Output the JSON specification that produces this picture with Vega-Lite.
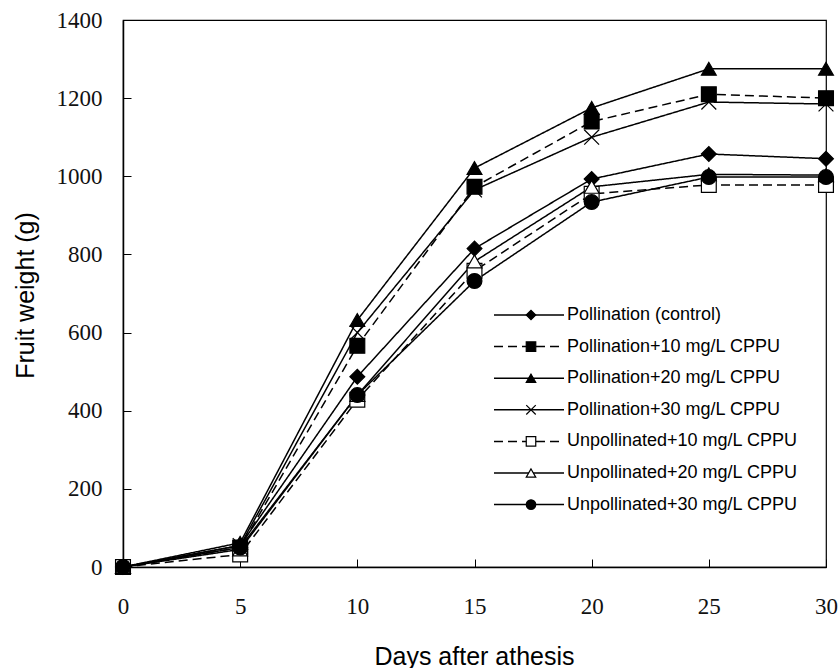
{
  "$schema": "https://vega.github.io/schema/vega-lite/v6.json",
  "width": 703,
  "height": 547,
  "autosize": {"type": "none"},
  "padding": {"left": 123, "top": 20, "right": 13, "bottom": 101},
  "background": "white",
  "config": {
    "view": {"stroke": "#000000", "strokeWidth": 1.2},
    "axis": {
      "grid": false,
      "domainColor": "#000000",
      "domainWidth": 1.5,
      "tickColor": "#000000",
      "tickWidth": 1,
      "tickSize": -8,
      "labelFont": "Liberation Serif",
      "labelFontSize": 23,
      "labelColor": "#111111",
      "titleFont": "Liberation Sans",
      "titleFontSize": 25,
      "titleFontWeight": "normal",
      "titleColor": "#000000"
    }
  },
  "data": {
    "values": [
      {"day": 0, "series": "Pollination (control)", "weight": 0},
      {"day": 5, "series": "Pollination (control)", "weight": 55},
      {"day": 10, "series": "Pollination (control)", "weight": 487},
      {"day": 15, "series": "Pollination (control)", "weight": 815},
      {"day": 20, "series": "Pollination (control)", "weight": 993},
      {"day": 25, "series": "Pollination (control)", "weight": 1057},
      {"day": 30, "series": "Pollination (control)", "weight": 1045},
      {"day": 0, "series": "Pollination+10 mg/L CPPU", "weight": 0},
      {"day": 5, "series": "Pollination+10 mg/L CPPU", "weight": 50},
      {"day": 10, "series": "Pollination+10 mg/L CPPU", "weight": 566},
      {"day": 15, "series": "Pollination+10 mg/L CPPU", "weight": 973},
      {"day": 20, "series": "Pollination+10 mg/L CPPU", "weight": 1140},
      {"day": 25, "series": "Pollination+10 mg/L CPPU", "weight": 1210},
      {"day": 30, "series": "Pollination+10 mg/L CPPU", "weight": 1200},
      {"day": 0, "series": "Pollination+20 mg/L CPPU", "weight": 0},
      {"day": 5, "series": "Pollination+20 mg/L CPPU", "weight": 62},
      {"day": 10, "series": "Pollination+20 mg/L CPPU", "weight": 632},
      {"day": 15, "series": "Pollination+20 mg/L CPPU", "weight": 1021},
      {"day": 20, "series": "Pollination+20 mg/L CPPU", "weight": 1175},
      {"day": 25, "series": "Pollination+20 mg/L CPPU", "weight": 1275},
      {"day": 30, "series": "Pollination+20 mg/L CPPU", "weight": 1275},
      {"day": 0, "series": "Pollination+30 mg/L CPPU", "weight": 0},
      {"day": 5, "series": "Pollination+30 mg/L CPPU", "weight": 55},
      {"day": 10, "series": "Pollination+30 mg/L CPPU", "weight": 600},
      {"day": 15, "series": "Pollination+30 mg/L CPPU", "weight": 965},
      {"day": 20, "series": "Pollination+30 mg/L CPPU", "weight": 1100},
      {"day": 25, "series": "Pollination+30 mg/L CPPU", "weight": 1190},
      {"day": 30, "series": "Pollination+30 mg/L CPPU", "weight": 1185},
      {"day": 0, "series": "Unpollinated+10 mg/L CPPU", "weight": 0},
      {"day": 5, "series": "Unpollinated+10 mg/L CPPU", "weight": 32},
      {"day": 10, "series": "Unpollinated+10 mg/L CPPU", "weight": 428},
      {"day": 15, "series": "Unpollinated+10 mg/L CPPU", "weight": 758},
      {"day": 20, "series": "Unpollinated+10 mg/L CPPU", "weight": 955},
      {"day": 25, "series": "Unpollinated+10 mg/L CPPU", "weight": 978},
      {"day": 30, "series": "Unpollinated+10 mg/L CPPU", "weight": 978},
      {"day": 0, "series": "Unpollinated+20 mg/L CPPU", "weight": 0},
      {"day": 5, "series": "Unpollinated+20 mg/L CPPU", "weight": 45},
      {"day": 10, "series": "Unpollinated+20 mg/L CPPU", "weight": 440},
      {"day": 15, "series": "Unpollinated+20 mg/L CPPU", "weight": 782},
      {"day": 20, "series": "Unpollinated+20 mg/L CPPU", "weight": 973},
      {"day": 25, "series": "Unpollinated+20 mg/L CPPU", "weight": 1005},
      {"day": 30, "series": "Unpollinated+20 mg/L CPPU", "weight": 1003},
      {"day": 0, "series": "Unpollinated+30 mg/L CPPU", "weight": 0},
      {"day": 5, "series": "Unpollinated+30 mg/L CPPU", "weight": 50},
      {"day": 10, "series": "Unpollinated+30 mg/L CPPU", "weight": 440},
      {"day": 15, "series": "Unpollinated+30 mg/L CPPU", "weight": 732},
      {"day": 20, "series": "Unpollinated+30 mg/L CPPU", "weight": 934},
      {"day": 25, "series": "Unpollinated+30 mg/L CPPU", "weight": 998},
      {"day": 30, "series": "Unpollinated+30 mg/L CPPU", "weight": 998}
    ]
  },
  "encoding": {
    "x": {
      "field": "day",
      "type": "quantitative",
      "scale": {"domain": [0, 30], "nice": false, "zero": false},
      "axis": {
        "values": [0, 5, 10, 15, 20, 25, 30],
        "format": "d",
        "title": "Days after athesis",
        "labelBaseline": "middle",
        "labelPadding": 47,
        "labelFlush": false,
        "titleBaseline": "alphabetic",
        "titleX": 351,
        "titleY": 97
      }
    },
    "y": {
      "field": "weight",
      "type": "quantitative",
      "scale": {"domain": [0, 1400], "nice": false},
      "axis": {
        "values": [0, 200, 400, 600, 800, 1000, 1200, 1400],
        "format": "d",
        "title": "Fruit weight (g)",
        "labelPadding": 29,
        "labelBaseline": "middle",
        "labelFlush": false,
        "titleBaseline": "alphabetic",
        "titleAngle": -90,
        "titleX": -90,
        "titleY": 275
      }
    }
  },
  "layer": [
    {
      "mark": {"type": "line", "color": "#000000", "strokeWidth": 1.5},
      "encoding": {
        "strokeDash": {
          "field": "series",
          "type": "nominal",
          "scale": {"range": [[1, 0], [9, 5], [1, 0], [1, 0], [9, 5], [1, 0], [1, 0]]},
          "legend": {
            "orient": "none",
            "legendX": 397,
            "legendY": 286,
            "title": null,
            "padding": 0,
            "symbolType": "M-5,0H5",
            "symbolSize": 196,
            "symbolStrokeWidth": 1.5,
            "symbolStrokeColor": "#000000",
            "labelFont": "Liberation Sans",
            "labelFontSize": 18,
            "labelColor": "#000000",
            "labelOffset": 29,
            "labelLimit": 400,
            "rowPadding": 13.6
          }
        }
      }
    },
    {
      "mark": {"type": "point", "filled": true, "stroke": "#000000", "strokeWidth": 1.2, "opacity": 1, "size": 220},
      "encoding": {
        "shape": {
          "field": "series",
          "type": "nominal",
          "scale": {
            "domain": ["Pollination (control)", "Pollination+10 mg/L CPPU", "Pollination+20 mg/L CPPU", "Pollination+30 mg/L CPPU", "Unpollinated+10 mg/L CPPU", "Unpollinated+20 mg/L CPPU", "Unpollinated+30 mg/L CPPU"],
            "range": ["diamond", "square", "triangle-up", "M-1,-1L1,1M-1,1L1,-1", "square", "triangle-up", "circle"]
          },
          "legend": {
            "orient": "none",
            "legendX": 399,
            "legendY": 286,
            "title": null,
            "padding": 0,
            "symbolSize": 90,
            "symbolStrokeWidth": 1.2,
            "labelFont": "Liberation Sans",
            "labelFontSize": 18,
            "labelColor": "transparent",
            "labelExpr": "' '",
            "labelLimit": 400,
            "rowPadding": 13.6
          }
        },
        "fill": {
          "field": "series",
          "type": "nominal",
          "scale": {
            "domain": ["Pollination (control)", "Pollination+10 mg/L CPPU", "Pollination+20 mg/L CPPU", "Pollination+30 mg/L CPPU", "Unpollinated+10 mg/L CPPU", "Unpollinated+20 mg/L CPPU", "Unpollinated+30 mg/L CPPU"],
            "range": ["#000000", "#000000", "#000000", "#000000", "#ffffff", "#ffffff", "#000000"]
          },
          "legend": {
            "orient": "none",
            "legendX": 399,
            "legendY": 286,
            "title": null,
            "padding": 0,
            "symbolSize": 90,
            "symbolStrokeWidth": 1.2,
            "labelFont": "Liberation Sans",
            "labelFontSize": 18,
            "labelColor": "transparent",
            "labelExpr": "' '",
            "labelLimit": 400,
            "rowPadding": 13.6
          }
        }
      }
    }
  ]
}
